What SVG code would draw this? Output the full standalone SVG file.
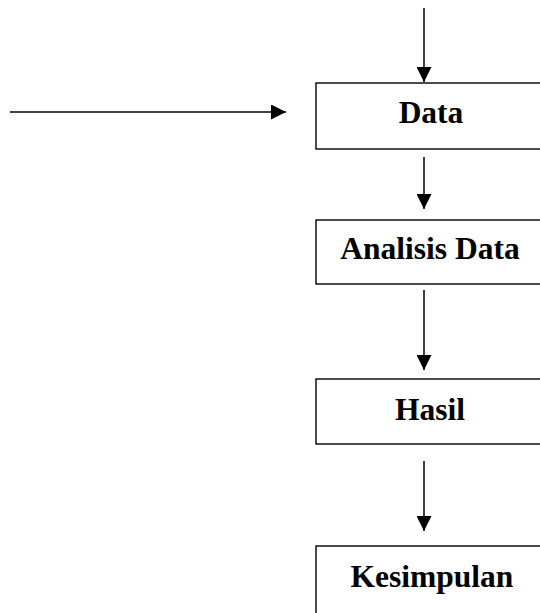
<svg xmlns="http://www.w3.org/2000/svg" width="540" height="613" viewBox="0 0 540 613">
<style>
.box{fill:#fff;stroke:#000;stroke-width:1.4}
.lbl{font-family:"Liberation Serif","Times New Roman",serif;font-weight:bold;font-size:31.5px;text-anchor:middle;fill:#000}
.con{stroke:#000;stroke-width:1.5;fill:none}
</style>
<defs>
<marker id="ah" viewBox="0 0 15 15" refX="15" refY="7.5" markerWidth="15" markerHeight="15" markerUnits="userSpaceOnUse" orient="auto">
<path d="M0,0 L15,7.5 L0,15 Z" fill="#000"/>
</marker>
</defs>
<rect width="540" height="613" fill="#fff"/>
<g id="connectors">
<line class="con" x1="424" y1="8" x2="424" y2="82" marker-end="url(#ah)"/>
<line class="con" x1="10" y1="112" x2="286" y2="112" marker-end="url(#ah)"/>
<line class="con" x1="424" y1="157" x2="424" y2="209" marker-end="url(#ah)"/>
<line class="con" x1="424" y1="290" x2="424" y2="370" marker-end="url(#ah)"/>
<line class="con" x1="424" y1="461" x2="424" y2="531" marker-end="url(#ah)"/>
</g>
<g id="node-data">
<rect class="box" x="316" y="83" width="230" height="66"/>
<text class="lbl" x="431" y="123">Data</text>
</g>
<g id="node-analisis">
<rect class="box" x="316" y="220" width="230" height="64"/>
<text class="lbl" x="430" y="259">Analisis Data</text>
</g>
<g id="node-hasil">
<rect class="box" x="316" y="379" width="230" height="65"/>
<text class="lbl" x="430" y="420">Hasil</text>
</g>
<g id="node-kesimpulan">
<rect class="box" x="316" y="546" width="230" height="80"/>
<text class="lbl" x="432" y="587">Kesimpulan</text>
</g>
</svg>
